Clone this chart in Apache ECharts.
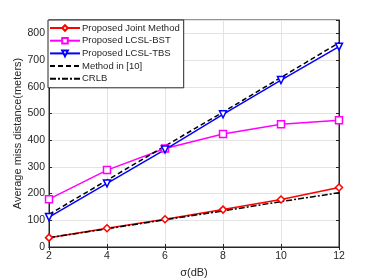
<!DOCTYPE html>
<html><head><meta charset="utf-8">
<script src="https://cdn.jsdelivr.net/npm/echarts@6/dist/echarts.min.js"></script>
<style>html,body{margin:0;padding:0;background:#fff}#c{width:374px;height:280px}</style>
</head><body><div id="c"></div>
<script>
const sigma = [2, 4, 6, 8, 10, 12];
const joint = [35, 70, 104, 140, 178, 223];
const bst = [179, 288, 369, 423, 460, 475];
const tbs = [112, 238, 365, 497, 625, 750];
const method10 = [122, 250, 378, 505, 635, 765];
const crlb = [35, 68, 102, 135, 170, 203];
const names = ['Proposed Joint Method', 'Proposed LCSL-BST', 'Proposed LCSL-TBS', 'Method in [10]', 'CRLB'];

const pair = a => sigma.map((s, i) => [s, a[i]]);
const font = 'Liberation Sans, Arial, sans-serif';
const tc = '#262626';
const chart = echarts.init(document.getElementById('c'), null, {renderer: 'canvas'});

function mk(name, data, color, symbol, rot, lt, w) {
  return {
    name, type: 'line', data: pair(data), symbol: symbol, symbolSize: 7, symbolRotate: rot || 0,
    showSymbol: symbol !== 'none',
    lineStyle: {color, width: w || 1.5, type: lt || 'solid'},
    itemStyle: {color: '#fff', borderColor: color, borderWidth: 1.5},
    emphasis: {disabled: true}, animation: false, z: 3
  };
}

chart.setOption({
  animation: false,
  grid: {left: 49, right: 35, top: 20, bottom: 33, outerBoundsMode: 'none', containLabel: false,
    show: true, borderColor: '#262626', borderWidth: 1},
  legend: {
    orient: 'vertical', left: 48, top: 20,
    data: [
      {name: names[0]}, {name: names[1]}, {name: names[2]},
      {name: names[3], itemStyle: {opacity: 0}},
      {name: names[4], itemStyle: {opacity: 0}}
    ],
    backgroundColor: '#fff', borderColor: '#262626', borderWidth: 1,
    padding: [3, 4, 4, 1], itemWidth: 30, itemHeight: 7, itemGap: 2.7,
    textStyle: {fontFamily: font, fontSize: 9.5, lineHeight: 10, color: tc, padding: [0, 0, 0, -3]}
  },
  xAxis: [{
    type: 'value', min: 2, max: 12, interval: 2,
    name: 'σ(dB)', nameLocation: 'middle', nameGap: 20, nameMoveOverlap: false,
    nameTextStyle: {fontFamily: font, fontSize: 11, color: tc},
    axisLine: {show: true, onZero: false, lineStyle: {color: '#262626'}},
    axisTick: {inside: true, length: 3, lineStyle: {color: '#262626'}},
    axisLabel: {fontFamily: font, fontSize: 10.5, color: tc, margin: 4},
    splitLine: {show: true, lineStyle: {color: '#e3e3e3', width: 1}}
  }, {
    type: 'value', min: 2, max: 12, interval: 2, position: 'top',
    axisLine: {show: true, lineStyle: {color: '#262626'}},
    axisTick: {inside: true, length: 3, lineStyle: {color: '#262626'}},
    axisLabel: {show: false}, splitLine: {show: false}
  }],
  yAxis: [{
    type: 'value', min: 0, max: 850, interval: 100,
    name: 'Average miss distance(meters)', nameLocation: 'middle', nameGap: 26, nameMoveOverlap: false,
    nameTextStyle: {fontFamily: font, fontSize: 11, color: tc},
    axisLine: {show: true, onZero: false, lineStyle: {color: '#262626'}},
    axisTick: {inside: true, length: 3, lineStyle: {color: '#262626'}},
    axisLabel: {fontFamily: font, fontSize: 10.5, color: tc, margin: 4, showMaxLabel: false},
    splitLine: {show: true, lineStyle: {color: '#e3e3e3', width: 1}}
  }, {
    type: 'value', min: 0, max: 850, interval: 100, position: 'right',
    axisLine: {show: true, lineStyle: {color: '#262626'}},
    axisTick: {inside: true, length: 3, lineStyle: {color: '#262626'}},
    axisLabel: {show: false}, splitLine: {show: false}
  }],
  series: [
    mk(names[0], joint, '#ff0000', 'diamond'),
    mk(names[1], bst, '#ff00ff', 'rect'),
    mk(names[2], tbs, '#0000ff', 'triangle', 180),
    mk(names[3], method10, '#000000', 'none', 0, [5, 3]),
    mk(names[4], crlb, '#000000', 'none', 0, [6, 2, 2, 2])
  ]
});
</script></body></html>
